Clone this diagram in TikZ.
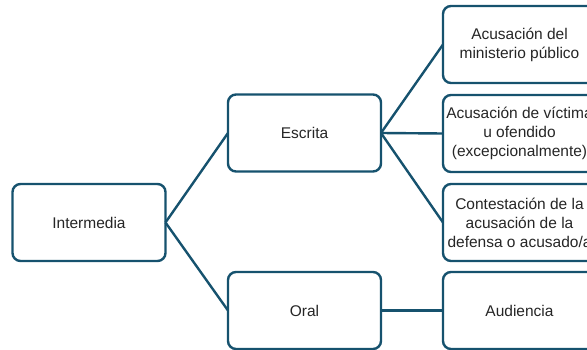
\documentclass[tikz,border=0pt]{standalone}
\usepackage{fontspec}
\setmainfont{Liberation Sans}
\definecolor{linkblue}{RGB}{22,82,110}
\tikzset{
  stagebox/.style={draw=linkblue, line width=2.4pt, rounded corners=8pt, fill=white,
    minimum width=153pt, minimum height=77pt, inner sep=2pt, outer sep=0pt,
    align=center, font=\fontsize{15.5}{19}\selectfont, text=black!85},
  link/.style={draw=linkblue, line width=2.4pt}
}
\begin{document}
\begin{tikzpicture}[x=1pt,y=1pt]
\useasboundingbox (0,0) rectangle (587,349);
\node[stagebox] (inter) at (89,126.5) {Intermedia};
\node[stagebox] (escr) at (304.5,216) {Escrita};
\node[stagebox] (oral) at (304.5,38.5) {Oral};
\node[stagebox] (mp) at (519.5,304.5) {Acusación del\\ministerio público};
\node[stagebox] (vict) at (519.5,215.5) {Acusación de víctima\\u ofendido\\(excepcionalmente)};
\node[stagebox] (cont) at (519.5,126.5) {Contestación de la\\acusación de la\\defensa o acusado/a};
\node[stagebox] (aud) at (519.5,38.5) {Audiencia};
\draw[link] (inter.east) -- (escr.west);
\draw[link] (inter.east) -- (oral.west);
\draw[link] (escr.east) -- (mp.west);
\draw[link] (escr.east) -- (vict.west);
\draw[link] (escr.east) -- (cont.west);
\draw[link] (oral.east) -- (aud.west);
\end{tikzpicture}
\end{document}
